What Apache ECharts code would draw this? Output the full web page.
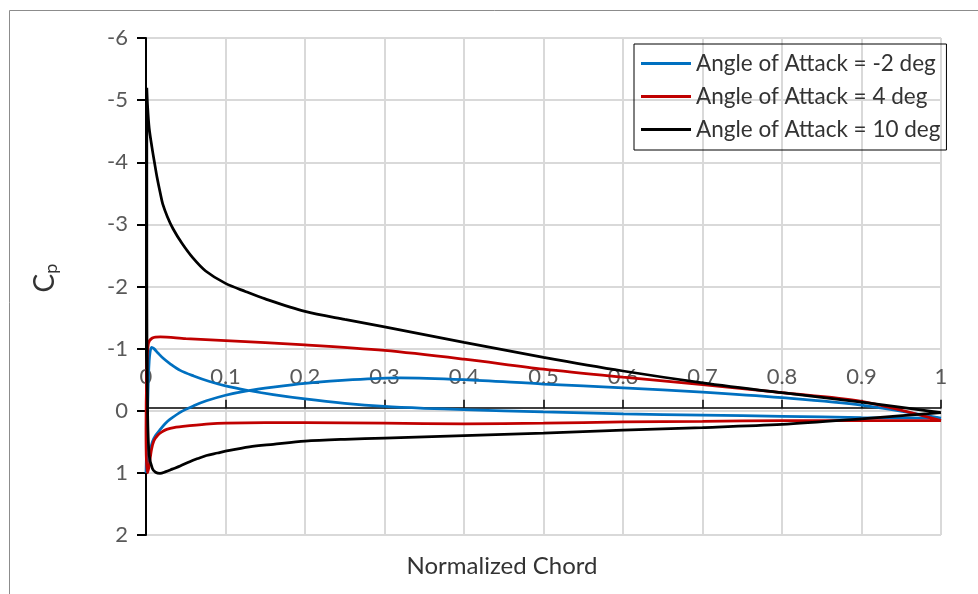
<!DOCTYPE html>
<html>
<head>
<meta charset="utf-8">
<script src="https://cdn.jsdelivr.net/npm/echarts@6/dist/echarts.min.js"></script>
<style>
  html, body { margin: 0; padding: 0; background: #fff; }
  #chart { width: 978px; height: 594px; }
</style>
</head>
<body>
<div id="chart"></div>
<script>
// chord stations and Cp values (leading edge -> trailing edge)
// -2 deg
const xBlueA = [0, 0.002, 0.004, 0.007, 0.01, 0.015, 0.022, 0.03, 0.043, 0.06, 0.08, 0.1, 0.127, 0.16, 0.2, 0.25, 0.3, 0.35, 0.4, 0.5, 0.6, 0.7, 0.8, 0.9, 1.0]
const cpBlueA = [1.0, 0.0, -0.8, -1.02, -1.0, -0.93, -0.84, -0.76, -0.65, -0.56, -0.47, -0.4, -0.33, -0.26, -0.19, -0.12, -0.07, -0.04, -0.02, 0.02, 0.05, 0.07, 0.09, 0.11, 0.12]
const xBlueB = [0, 0.003, 0.008, 0.012, 0.018, 0.024, 0.03, 0.045, 0.06, 0.076, 0.1, 0.127, 0.16, 0.2, 0.26, 0.32, 0.4, 0.5, 0.6, 0.7, 0.8, 0.9, 1.0]
const cpBlueB = [1.0, 0.75, 0.5, 0.4, 0.3, 0.21, 0.14, 0.01, -0.08, -0.16, -0.25, -0.32, -0.38, -0.44, -0.5, -0.53, -0.5, -0.43, -0.37, -0.3, -0.21, -0.09, 0.12]
// 4 deg
const xRedUp = [0, 0.001, 0.003, 0.008, 0.018, 0.05, 0.1, 0.2, 0.3, 0.4, 0.5, 0.6, 0.7, 0.8, 0.9, 1.0]
const cpRedUp = [0.3, -0.6, -1.08, -1.17, -1.19, -1.16, -1.13, -1.06, -0.97, -0.83, -0.67, -0.54, -0.42, -0.29, -0.15, 0.16]
const xRedLo = [0, 0.0005, 0.002, 0.004, 0.007, 0.01, 0.015, 0.02, 0.026, 0.035, 0.055, 0.08, 0.1, 0.2, 0.3, 0.4, 0.5, 0.6, 0.7, 0.8, 0.9, 1.0]
const cpRedLo = [0.3, 0.8, 1.0, 0.88, 0.62, 0.48, 0.39, 0.34, 0.3, 0.27, 0.24, 0.21, 0.2, 0.19, 0.2, 0.21, 0.2, 0.18, 0.17, 0.16, 0.16, 0.16]
// 10 deg
const xBlackUp = [0.001, 0.002, 0.004, 0.0075, 0.011, 0.014, 0.018, 0.021, 0.027, 0.034, 0.045, 0.059, 0.075, 0.1, 0.125, 0.15, 0.2, 0.25, 0.3, 0.4, 0.5, 0.6, 0.7, 0.8, 0.9, 1.0]
const cpBlackUp = [-5.2, -4.9, -4.55, -4.24, -3.97, -3.75, -3.5, -3.33, -3.12, -2.93, -2.7, -2.46, -2.25, -2.05, -1.92, -1.8, -1.6, -1.47, -1.35, -1.1, -0.86, -0.64, -0.45, -0.29, -0.14, 0.03]
const xBlackLo = [0.001, 0.001, 0.002, 0.004, 0.008, 0.012, 0.0176, 0.025, 0.033, 0.043, 0.055, 0.065, 0.076, 0.09, 0.1, 0.13, 0.16, 0.2, 0.25, 0.3, 0.4, 0.5, 0.6, 0.7, 0.8, 0.9, 1.0]
const cpBlackLo = [-5.2, -2.0, 0.0, 0.72, 0.93, 0.99, 1.01, 0.98, 0.94, 0.89, 0.82, 0.77, 0.72, 0.68, 0.65, 0.58, 0.54, 0.49, 0.46, 0.44, 0.4, 0.36, 0.31, 0.27, 0.22, 0.13, 0.03]

const xTicks = [0, 0.1, 0.2, 0.3, 0.4, 0.5, 0.6, 0.7, 0.8, 0.9, 1]
const yTicks = [-6, -5, -4, -3, -2, -1, 0, 1, 2]
const names = ['Angle of Attack = -2 deg', 'Angle of Attack = 4 deg', 'Angle of Attack = 10 deg']
const colors = ['#0070C0', '#C00000', '#000000']

// trailing edge along one surface to the leading edge, then back along the other
function loop (xa, ya, xb, yb) {
  let pts = []
  for (let i = xa.length - 1; i >= 0; i--) pts.push([xa[i], ya[i]])
  for (let i = 1; i < xb.length; i++) pts.push([xb[i], yb[i]])
  return pts
}

const font = 'Lato'
let chart = echarts.init(document.getElementById('chart'))
let option = {
  backgroundColor: '#fff',
  animation: false,
  textStyle: { fontFamily: font },
  grid: { left: 146, right: 37, top: 38, bottom: 59 },
  xAxis: {
    type: 'value',
    position: 'top',
    offset: 0,
    min: xTicks[0],
    max: xTicks[xTicks.length - 1],
    interval: 0.1,
    axisLine: { onZero: false, lineStyle: { color: '#000', width: 1.5 } },
    axisTick: { show: true, length: 8, lineStyle: { color: '#000', width: 1.5 } },
    axisLabel: { color: '#595959', fontSize: 22, fontFamily: font, margin: 20 },
    splitLine: { show: true, lineStyle: { color: '#d9d9d9', width: 2 } }
  },
  yAxis: {
    type: 'value',
    inverse: true,
    min: yTicks[0],
    max: yTicks[yTicks.length - 1],
    interval: 1,
    axisLine: { show: true, onZero: false, lineStyle: { color: '#000', width: 2 } },
    axisTick: { show: true, length: 9, lineStyle: { color: '#000', width: 2 } },
    axisLabel: { color: '#595959', fontSize: 22, fontFamily: font, margin: 18 },
    splitLine: { show: true, lineStyle: { color: '#d9d9d9', width: 2 } }
  },
  legend: {
    orient: 'vertical',
    left: 634,
    top: 44,
    padding: [8, 6, 9, 7],
    itemGap: 10,
    itemWidth: 50,
    itemHeight: 3,
    icon: 'rect',
    borderColor: '#000',
    borderWidth: 1,
    borderRadius: 0,
    textStyle: { color: '#333', fontSize: 22.5, fontFamily: font, lineHeight: 23 },
    data: names
  },
  graphic: [
    {
      type: 'rect',
      left: 7,
      top: 8,
      shape: { width: 1000, height: 1000 },
      style: { fill: 'none', stroke: '#8c8c8c', lineWidth: 1 },
      silent: true,
      z: -10
    },
    {
      type: 'text',
      x: 502,
      y: 566,
      style: {
        text: 'Normalized Chord',
        fontSize: 24,
        fontFamily: font,
        fill: '#333',
        align: 'center',
        verticalAlign: 'middle'
      }
    },
    {
      type: 'text',
      x: 45,
      y: 278,
      rotation: Math.PI / 2,
      style: {
        text: '{c|C}{s|p}',
        align: 'center',
        verticalAlign: 'middle',
        rich: {
          c: { fontSize: 28, fontFamily: font, fill: '#333' },
          s: { fontSize: 18, fontFamily: font, fill: '#333', padding: [12, 0, 0, 0] }
        }
      }
    }
  ],
  series: [
    {
      name: names[0],
      type: 'line',
      color: colors[0],
      showSymbol: false,
      smooth: 0.3,
      lineStyle: { width: 2.75 },
      data: loop(xBlueA, cpBlueA, xBlueB, cpBlueB)
    },
    {
      name: names[1],
      type: 'line',
      color: colors[1],
      showSymbol: false,
      smooth: 0.3,
      lineStyle: { width: 2.75 },
      data: loop(xRedUp, cpRedUp, xRedLo, cpRedLo)
    },
    {
      name: names[2],
      type: 'line',
      color: colors[2],
      showSymbol: false,
      smooth: 0.3,
      lineStyle: { width: 2.75 },
      data: loop(xBlackUp, cpBlackUp, xBlackLo, cpBlackLo)
    }
  ]
}
chart.setOption(option)

// the x axis crosses at Cp = 0: move the top axis down to that line
let yTop = chart.convertToPixel({ yAxisIndex: 0 }, yTicks[0])
let yZero = chart.convertToPixel({ yAxisIndex: 0 }, 0)
chart.setOption({ xAxis: { offset: yTop - yZero } })
</script>
</body>
</html>
